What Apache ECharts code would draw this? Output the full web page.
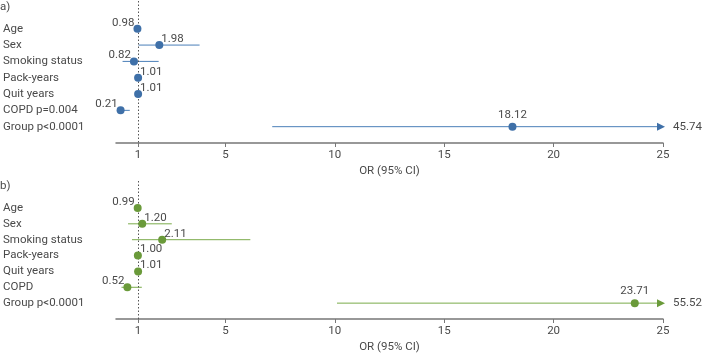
<!DOCTYPE html>
<html>
<head>
<meta charset="utf-8">
<script src="https://cdn.jsdelivr.net/npm/echarts@6/dist/echarts.min.js"></script>
<style>html,body{margin:0;padding:0;background:#fff;}#c{width:705px;height:354px;}</style>
</head>
<body>
<div id="c"></div>
<script>
// ---- data ----
const categoriesA = ['Age', 'Sex', 'Smoking status', 'Pack-years', 'Quit years', 'COPD p=0.004', 'Group p<0.0001'];
const orA    = [0.98, 1.98, 0.82, 1.01, 1.01, 0.21, 18.12];
const lowerA = [0.96, 1.03, 0.30, 0.99, 0.99, 0.07, 7.14];
const upperA = [1.00, 3.82, 1.95, 1.03, 1.03, 0.63, 45.74];

const categoriesB = ['Age', 'Sex', 'Smoking status', 'Pack-years', 'Quit years', 'COPD', 'Group p<0.0001'];
const orB    = [0.99, 1.20, 2.11, 1.00, 1.01, 0.52, 23.71];
const lowerB = [0.97, 0.55, 0.73, 0.98, 0.99, 0.25, 10.10];
const upperB = [1.01, 2.55, 6.14, 1.02, 1.03, 1.18, 55.52];

const xTicks = [1, 5, 10, 15, 20, 25];
const xMax = 25;

const blue = '#3f70a8', blueLine = '#4a7fb8';
const green = '#6a9a3a', greenLine = '#7aab4a';
const textColor = '#4a4a4a';
const FONT = 'Roboto';
const FS = 11.5;

function catFormatter(cats) { return v => cats[v] !== undefined ? cats[v] : ''; }

function makeAxes(gi, cats) {
  const x = {
    type: 'value', gridIndex: gi, min: 0, max: xMax,
    axisLine: { show: true, onZero: false, lineStyle: { color: '#777', width: 1.5 } },
    axisTick: { show: true, customValues: xTicks, length: 4, lineStyle: { color: '#777' } },
    axisLabel: { customValues: xTicks, color: textColor, fontFamily: FONT, fontSize: FS, margin: 6 },
    splitLine: { show: false },
    name: 'OR (95% CI)', nameLocation: 'middle', nameGap: 22,
    nameTextStyle: { color: textColor, fontFamily: FONT, fontSize: FS }
  };
  const y = {
    type: 'value', gridIndex: gi, inverse: true, min: -1.7, max: 7,
    axisLine: { show: false }, axisTick: { show: false }, splitLine: { show: false },
    axisLabel: { customValues: [0,1,2,3,4,5,6], formatter: catFormatter(cats), align: 'left', margin: 113,
      color: textColor, fontFamily: FONT, fontSize: FS }
  };
  return [x, y];
}

function ciSeries(gi, lo, hi, lineColor, arrowColor) {
  const data = lo.map((l, i) => [l, hi[i], i]);
  return {
    type: 'custom', xAxisIndex: gi, yAxisIndex: gi, silent: true,
    data: data,
    encode: { x: [0, 1], y: 2 },
    renderItem: function (params, api) {
      const l = api.value(0), h = api.value(1), yi = api.value(2);
      const p0 = api.coord([l, yi]);
      const capped = h > xMax;
      const p1 = api.coord([Math.min(h, xMax), yi]);
      const children = [{
        type: 'line',
        shape: { x1: p0[0], y1: p0[1], x2: p1[0], y2: p1[1] },
        style: { stroke: lineColor, lineWidth: 1 }
      }];
      if (capped) {
        const tx = p1[0] + 2, ty = p1[1];
        children.push({
          type: 'polygon',
          shape: { points: [[tx, ty], [tx - 8, ty - 4], [tx - 8, ty + 4]] },
          style: { fill: arrowColor }
        });
        children.push({
          type: 'text',
          style: { text: h.toFixed(2), x: tx + 8, y: ty, verticalAlign: 'middle', align: 'left',
            fill: textColor, font: FS + 'px ' + FONT }
        });
      }
      return { type: 'group', children: children };
    }
  };
}

function pointSeries(gi, vals, color) {
  const data = vals.map((v, i) => {
    let align = 'left', dx = 2;
    if (i === vals.length - 1) { align = 'center'; dx = 0; }
    else if (v < 1) { align = 'right'; dx = -3; }
    return {
      value: [v, i],
      label: { align: align, offset: [dx, i === vals.length - 1 ? -2 : 4] }
    };
  });
  return {
    type: 'scatter', xAxisIndex: gi, yAxisIndex: gi, symbolSize: 8, silent: true,
    itemStyle: { color: color, opacity: 1 },
    z: 5,
    label: {
      show: true, position: 'top', distance: 0,
      formatter: p => p.value[0].toFixed(2),
      color: textColor, fontFamily: FONT, fontSize: FS
    },
    data: data,
    markLine: {
      silent: true, symbol: 'none', animation: false,
      label: { show: false },
      lineStyle: { type: [1.5, 2], color: '#555', width: 1 },
      data: [{ xAxis: 1 }]
    }
  };
}

const axA = makeAxes(0, categoriesA);
const axB = makeAxes(1, categoriesB);

const chart = echarts.init(document.getElementById('c'), null, { renderer: 'canvas' });
chart.setOption({
  animation: false,
  backgroundColor: '#fff',
  grid: [
    { left: 113, right: 42, top: 1, height: 142 },
    { left: 113, right: 42, top: 181, height: 141 }
  ],
  title: [
    { text: 'a)', left: 0, top: 1, padding: 0, textStyle: { color: textColor, fontFamily: FONT, fontSize: FS, fontWeight: 'normal' } },
    { text: 'b)', left: 0, top: 180, padding: 0, textStyle: { color: textColor, fontFamily: FONT, fontSize: FS, fontWeight: 'normal' } }
  ],
  xAxis: [axA[0], axB[0]],
  yAxis: [axA[1], axB[1]],
  series: [
    ciSeries(0, lowerA, upperA, blueLine, blue),
    pointSeries(0, orA, blue),
    ciSeries(1, lowerB, upperB, greenLine, green),
    pointSeries(1, orB, green)
  ]
});
</script>
</body>
</html>
